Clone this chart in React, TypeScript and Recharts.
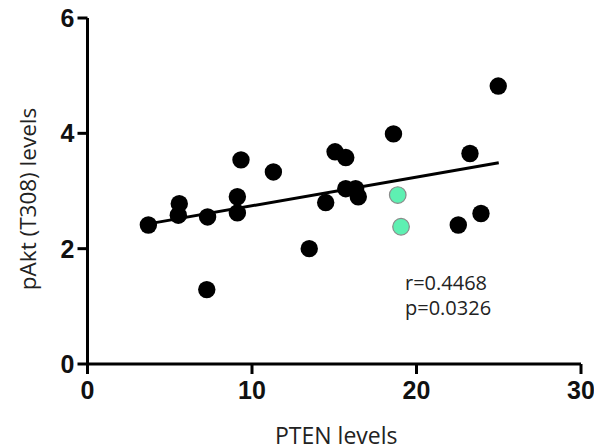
import { ScatterChart, Scatter, XAxis, YAxis, ReferenceLine } from "recharts"

// PTEN levels (x) vs pAkt T308 levels (y)
const blackX = [3.7, 5.58, 5.52, 7.3, 7.25, 9.33, 9.11, 9.11, 11.3, 13.48, 14.48, 15.05, 15.7, 15.7, 16.3, 16.46, 18.6, 22.54, 23.25, 23.92, 24.97]
const blackY = [2.41, 2.78, 2.58, 2.55, 1.29, 3.54, 2.9, 2.62, 3.33, 2.0, 2.8, 3.68, 3.58, 3.04, 3.04, 2.9, 3.99, 2.41, 3.65, 2.61, 4.82]
const cyanX = [18.86, 19.06]
const cyanY = [2.93, 2.38]
const fitX = [3.7, 25]
const fitY = [2.43, 3.49]
const xTicks = [0, 10, 20, 30]
const yTicks = [0, 2, 4, 6]
const stats = ["r=0.4468", "p=0.0326"]

const blackPts = blackX.map((x, i) => ({ x, y: blackY[i] }))
const cyanPts = cyanX.map((x, i) => ({ x, y: cyanY[i] }))
const fitSeg = fitX.map((x, i) => ({ x, y: fitY[i] }))

const tickStyle = { fontFamily: "'Liberation Sans Narrow', 'Liberation Sans'", fontWeight: 700, fontSize: 25, fill: "#111" }
const titleFont = "Open Sans"

function BlackDot(props: any) {
  return <circle cx={props.cx} cy={props.cy} r={8.7} fill="#000" />
}

function CyanDot(props: any) {
  return <circle cx={props.cx} cy={props.cy} r={8.3} fill="#5ef0b2" stroke="#8a8a8a" strokeWidth={1.2} />
}

function XTitle(props: any) {
  const vb = props.viewBox
  return (
    <text x={vb.x + vb.width / 2 + 2} y={vb.y + 80} textAnchor="middle" fontFamily={titleFont} fontSize={23} fill="#222">
      PTEN levels
    </text>
  )
}

function YTitle(props: any) {
  const vb = props.viewBox
  const cx = 36
  const cy = vb.y + vb.height / 2 + 8
  return (
    <text x={cx} y={cy} transform={`rotate(-90, ${cx}, ${cy})`} textAnchor="middle" fontFamily={titleFont} fontSize={22.5} fill="#222">
      pAkt (T308) levels
    </text>
  )
}

export default function App() {
  return (
    <div style={{ position: "absolute", left: 0, top: 0, background: "#fff" }}>
      <ScatterChart width={594} height={448} margin={{ top: 18, right: 13, left: 0, bottom: 0 }}>
        <XAxis
          type="number"
          dataKey="x"
          domain={[0, 30]}
          ticks={xTicks}
          height={84}
          tickSize={10}
          tickMargin={7}
          tick={tickStyle}
          axisLine={{ stroke: "#000", strokeWidth: 3 }}
          tickLine={{ stroke: "#000", strokeWidth: 3 }}
          label={{ content: XTitle }}
        />
        <YAxis
          type="number"
          dataKey="y"
          domain={[0, 6]}
          ticks={yTicks}
          width={87.5}
          tickSize={10}
          tickMargin={3}
          tick={tickStyle}
          axisLine={{ stroke: "#000", strokeWidth: 3 }}
          tickLine={{ stroke: "#000", strokeWidth: 3 }}
          label={{ content: YTitle }}
        />
        <ReferenceLine segment={fitSeg} stroke="#000" strokeWidth={3} />
        <Scatter data={blackPts} shape={BlackDot} isAnimationActive={false} />
        <Scatter data={cyanPts} shape={CyanDot} isAnimationActive={false} />
        <text x={405} y={290} fontFamily={titleFont} fontSize={20} fill="#222">{stats[0]}</text>
        <text x={405} y={315} fontFamily={titleFont} fontSize={20} fill="#222">{stats[1]}</text>
      </ScatterChart>
    </div>
  )
}
